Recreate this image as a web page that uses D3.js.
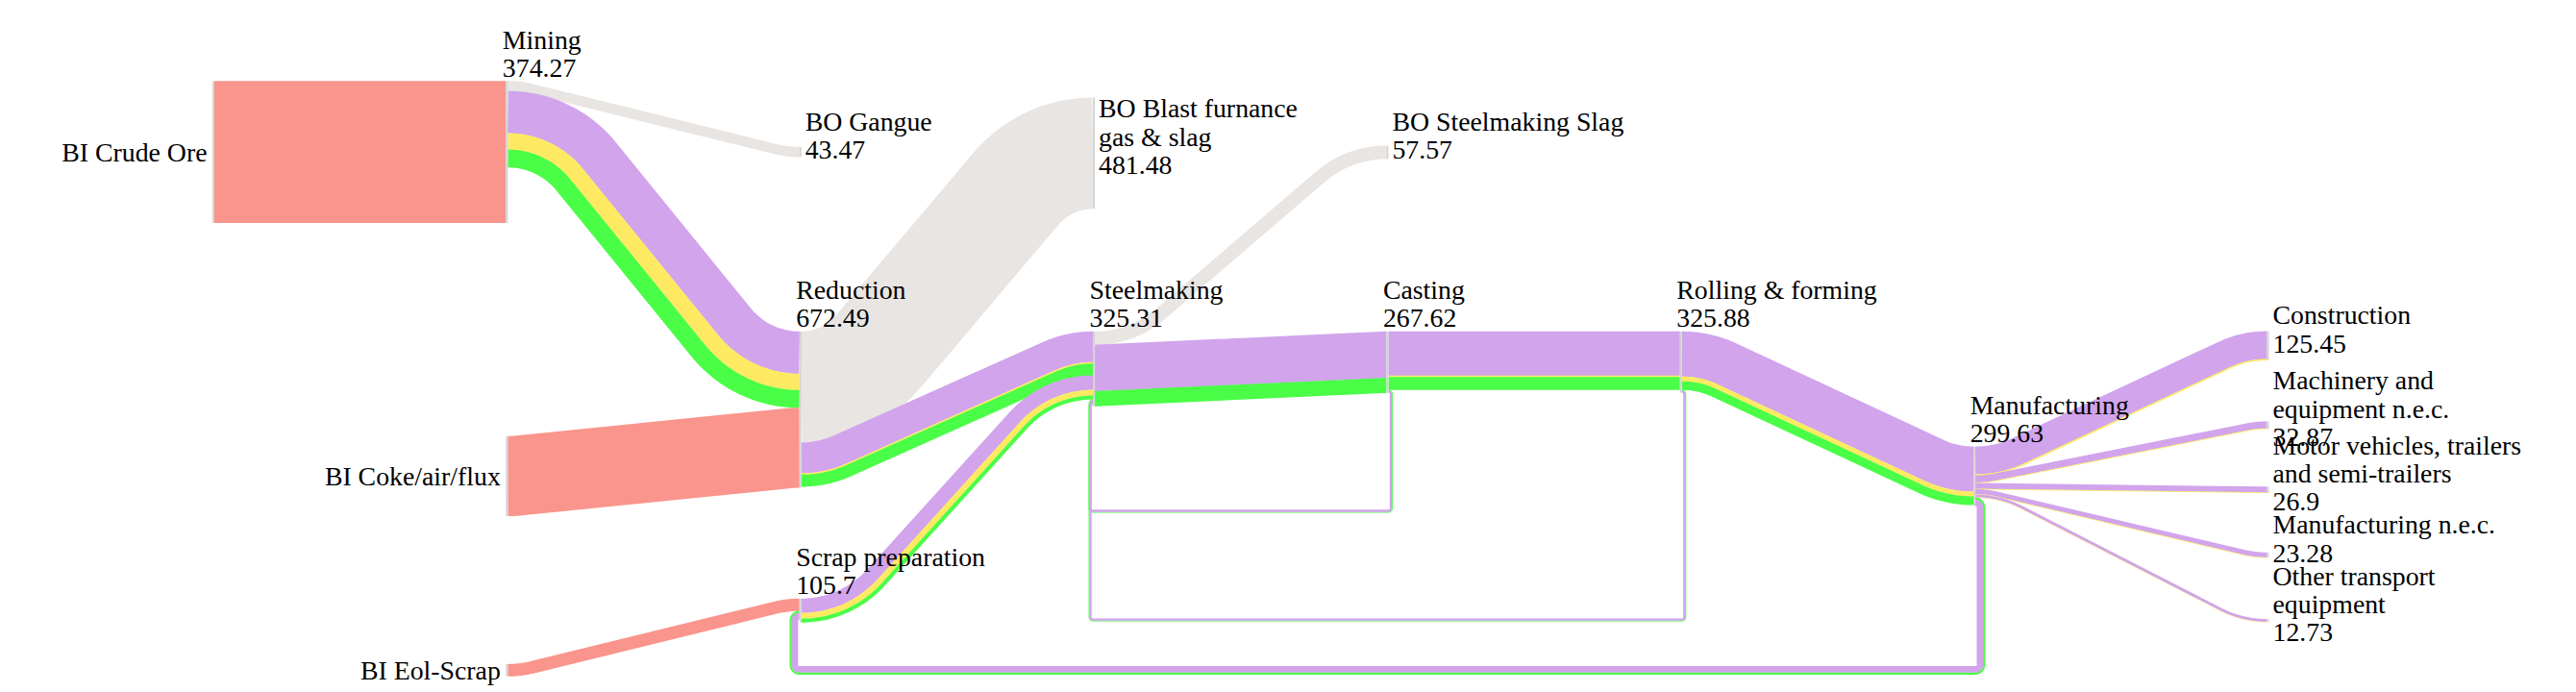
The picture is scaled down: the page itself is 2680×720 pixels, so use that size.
<!DOCTYPE html>
<html>
<head>
<meta charset="utf-8">
<script src="https://cdn.jsdelivr.net/npm/d3@7"></script>
<style>
  html, body { margin: 0; padding: 0; background: #fff; }
  svg { display: block; }
  text { font-family: "Liberation Serif", "Times New Roman", serif; font-size: 27.8px; fill: #000; }
</style>
</head>
<body>
<svg id="chart"></svg>
<script>
// ---- data ----
const nodeNames = [
  "BI Crude Ore", "Mining", "BI Coke/air/flux", "BI Eol-Scrap",
  "BO Gangue", "Reduction", "Scrap preparation",
  "BO Blast furnance gas & slag", "Steelmaking",
  "BO Steelmaking Slag", "Casting", "Rolling & forming", "Manufacturing",
  "Construction", "Machinery and equipment n.e.c.",
  "Motor vehicles, trailers and semi-trailers", "Manufacturing n.e.c.",
  "Other transport equipment"
];
// label text, "\n" = line break as in the picture
const nodeTitles = [
  "BI Crude Ore", "Mining", "BI Coke/air/flux", "BI Eol-Scrap",
  "BO Gangue", "Reduction", "Scrap preparation",
  "BO Blast furnance\ngas & slag", "Steelmaking",
  "BO Steelmaking Slag", "Casting", "Rolling & forming", "Manufacturing",
  "Construction", "Machinery and\nequipment n.e.c.",
  "Motor vehicles, trailers\nand semi-trailers", "Manufacturing n.e.c.",
  "Other transport\nequipment"
];
const nodeValues = [
  null, 374.27, null, null,
  43.47, 672.49, 105.7,
  481.48, 325.31,
  57.57, 267.62, 325.88, 299.63,
  125.45, 32.87, 26.9, 23.28, 12.73
];

// one row per typed flow
const linkSource = [
  "BI Crude Ore", "Mining", "Mining", "Mining", "Mining",
  "BI Coke/air/flux",
  "Reduction", "Reduction", "Reduction", "Reduction",
  "BI Eol-Scrap",
  "Scrap preparation", "Scrap preparation", "Scrap preparation",
  "Steelmaking", "Steelmaking", "Steelmaking",
  "Casting", "Casting", "Casting", "Casting", "Casting",
  "Rolling & forming", "Rolling & forming", "Rolling & forming", "Rolling & forming", "Rolling & forming",
  "Manufacturing", "Manufacturing", "Manufacturing", "Manufacturing", "Manufacturing",
  "Manufacturing", "Manufacturing", "Manufacturing", "Manufacturing", "Manufacturing",
  "Manufacturing", "Manufacturing"
];
const linkTarget = [
  "Mining", "BO Gangue", "Reduction", "Reduction", "Reduction",
  "Reduction",
  "BO Blast furnance gas & slag", "Steelmaking", "Steelmaking", "Steelmaking",
  "Scrap preparation",
  "Steelmaking", "Steelmaking", "Steelmaking",
  "BO Steelmaking Slag", "Casting", "Casting",
  "Rolling & forming", "Rolling & forming", "Rolling & forming", "Steelmaking", "Steelmaking",
  "Manufacturing", "Manufacturing", "Manufacturing", "Steelmaking", "Steelmaking",
  "Construction", "Construction",
  "Machinery and equipment n.e.c.", "Machinery and equipment n.e.c.",
  "Motor vehicles, trailers and semi-trailers", "Motor vehicles, trailers and semi-trailers",
  "Manufacturing n.e.c.", "Manufacturing n.e.c.",
  "Other transport equipment", "Other transport equipment",
  "Scrap preparation", "Scrap preparation"
];
const linkType = [
  "input", "loss", "a", "b", "c",
  "input",
  "loss", "a", "b", "c",
  "input",
  "a", "b", "c",
  "loss", "a", "c",
  "a", "b", "c", "c", "a",
  "a", "b", "c", "c", "a",
  "a", "b", "a", "b", "a", "b", "a", "b", "a", "b",
  "c", "a"
];
const linkValue = [
  615, 43.47, 183, 71, 76.8,
  346,
  481.48, 133, 6.5, 51.5,
  53,
  62, 25, 16,
  57.57, 201, 65,
  191, 7, 55, 3.5, 8.5,
  195, 21, 37, 3.5, 8.5,
  120, 5.45, 30, 2.87, 24.5, 2.4, 21, 2.28, 11.5, 1.23,
  9, 27
];

const flowTypes = ["input", "loss", "a", "b", "c"];

// ---- layout settings (column, vertical offset in flow units) ----
const nodeLayout = {
  "BI Crude Ore": [0, 0],
  "Mining": [1, 0],
  "BI Coke/air/flux": [1, 1540],
  "BI Eol-Scrap": [1, 2528],
  "BO Gangue": [2, 286],
  "Reduction": [2, 1086],
  "Scrap preparation": [2, 2244],
  "BO Blast furnance gas & slag": [3, 72],
  "Steelmaking": [3, 1086],
  "BO Steelmaking Slag": [4, 280],
  "Casting": [4, 1086],
  "Rolling & forming": [5, 1086],
  "Manufacturing": [6, 1585],
  "Construction": [7, 1085],
  "Machinery and equipment n.e.c.": [7, 1476],
  "Motor vehicles, trailers and semi-trailers": [7, 1759],
  "Manufacturing n.e.c.": [7, 2044],
  "Other transport equipment": [7, 2333]
};
// depth of the bottom run of each backward link, in flow units
const loopDepth = {
  "Casting|Steelmaking": 1865,
  "Rolling & forming|Steelmaking": 2336,
  "Manufacturing|Scrap preparation": 2555
};

const width = 2680, height = 720;
const nodeWidth = 2;
const bendRadius = 105;
const lineHeight = 29.3;

const svg = d3.select('#chart')
  .attr('width', width)
  .attr('height', height)
  .style('background', '#fff');

const xScale = d3.scaleLinear().domain([0, 7]).range([221, 2358.5]);
const yScale = d3.scaleLinear().domain([0, 2650]).range([84.3, 84.3 + 2650 * 0.24]);
const px = v => yScale(v) - yScale(0);

const color = d3.scaleOrdinal()
  .domain(flowTypes)
  .range(['#f9958c', '#e8e5e2', '#d1a4ec', '#fdea62', '#4afd47']);

// nodes
const nodes = nodeNames.map((name, i) => ({
  name,
  title: nodeTitles[i],
  value: nodeValues[i],
  col: nodeLayout[name][0],
  x: xScale(nodeLayout[name][0]),
  y: yScale(nodeLayout[name][1]),
  ins: [],
  outs: []
}));
const byName = new Map(nodes.map(d => [d.name, d]));

// group typed flows into bundles per source/target pair
const bundles = [];
const bundleMap = new Map();
linkSource.forEach((s, i) => {
  const key = s + '|' + linkTarget[i];
  let b = bundleMap.get(key);
  if (!b) {
    b = { key, source: byName.get(s), target: byName.get(linkTarget[i]), parts: [], total: 0 };
    bundleMap.set(key, b);
    bundles.push(b);
    b.source.outs.push(b);
    b.target.ins.push(b);
  }
  b.parts.push({ type: linkType[i], value: linkValue[i] });
  b.total += linkValue[i];
});

nodes.forEach(n => {
  const inSum = d3.sum(n.ins, b => b.total);
  const outSum = d3.sum(n.outs, b => b.total);
  n.h = px(Math.max(inSum, outSum));
  let c = 0;
  n.outs.forEach(b => { b.sy = n.y + c; c += px(b.total); });
  c = 0;
  n.ins.forEach(b => { b.ty = n.y + c; c += px(b.total); });
});

// ---- path helpers ----
function arc(pts, cx, cy, r, a0, a1) {
  const steps = 28;
  for (let k = 0; k <= steps; k++) {
    const a = a0 + (a1 - a0) * k / steps;
    pts.push([cx + r * Math.cos(a), cy + r * Math.sin(a)]);
  }
}

// forward link: arc, straight run, arc; offset o keeps bands concentric
function forwardPoints(x0, ys, x1, yt, o) {
  const dx = x1 - x0;
  const dy = Math.abs(yt - ys);
  if (dy < 0.5) return [[x0, ys + o], [x1, yt + o]];
  const R = Math.min(bendRadius, (dx * dx + dy * dy) / (4 * dy));
  const ey = dy - 2 * R;
  const L = Math.hypot(dx, ey);
  const t = Math.atan2(ey, dx) + Math.asin(Math.min(1, 2 * R / L));
  const P = Math.PI / 2;
  const pts = [];
  if (yt > ys) {
    arc(pts, x0, ys + R, R - o, -P, -P + t);
    arc(pts, x1, yt - R, R + o, P + t, P);
  } else {
    arc(pts, x0, ys - R, R + o, P, P - t);
    arc(pts, x1, yt + R, R - o, -P - t, -P);
  }
  return pts;
}

// backward link: loop down, left along the bottom and back up
function loopPoints(xs, ys, xt, yt, yb, r, o) {
  const ri = r - o;
  const P = Math.PI / 2;
  const pts = [];
  arc(pts, xs, ys + r, ri, -P, 0);
  arc(pts, xs, yb - r, ri, 0, P);
  arc(pts, xt, yb - r, ri, P, 2 * P);
  arc(pts, xt, yt + r, ri, 2 * P, 3 * P);
  return pts;
}

const line = d3.line();

// ---- links ----
const linkG = svg.append('g').attr('fill', 'none');

bundles.forEach(b => {
  const bw = px(b.total);
  const xs = b.source.x + nodeWidth;
  const xt = b.target.x;
  const ys = b.sy + bw / 2;
  const yt = b.ty + bw / 2;
  const isLoop = b.target.col <= b.source.col;
  let c = 0;
  b.parts.forEach(p => {
    const w = px(p.value);
    const o = c + w / 2 - bw / 2;
    c += w;
    const pts = isLoop
      ? loopPoints(xs, ys, xt, yt, yScale(loopDepth[b.key]), bw / 2 + 1.5, o)
      : forwardPoints(xs, ys, xt, yt, o);
    linkG.append('path')
      .attr('d', line(pts))
      .attr('stroke', color(p.type))
      .attr('stroke-width', w + 0.25);
  });
});

// ---- nodes ----
svg.append('g')
  .selectAll('rect')
  .data(nodes)
  .enter()
  .append('rect')
  .attr('x', d => d.x)
  .attr('y', d => d.y)
  .attr('width', nodeWidth)
  .attr('height', d => d.h)
  .attr('fill', '#d4d4d4');

// ---- labels ----
const labelG = svg.append('g');

nodes.forEach(n => {
  const lines = n.title.split('\n');
  if (n.value !== null) lines.push(String(n.value));
  const count = lines.length;
  const mid = n.y + n.h / 2;
  let x, y0, anchor;
  if (n.ins.length === 0) {
    // inputs: left of the node, centred
    x = n.x - 5.5;
    anchor = 'end';
    y0 = mid + 9.7 - (count - 1) * lineHeight / 2;
  } else if (n.outs.length === 0) {
    // outputs: right of the node
    x = n.x + 6;
    anchor = 'start';
    y0 = mid - 7.75 - (count - 1) * lineHeight / 2;
  } else {
    // processes: above the node
    x = n.x - 3.5;
    anchor = 'start';
    y0 = n.y - 4.5 - (count - 1) * lineHeight;
  }
  const t = labelG.append('text')
    .attr('text-anchor', anchor);
  lines.forEach((s, i) => {
    t.append('tspan')
      .attr('x', x)
      .attr('y', y0 + i * lineHeight)
      .text(s);
  });
});
</script>
</body>
</html>
